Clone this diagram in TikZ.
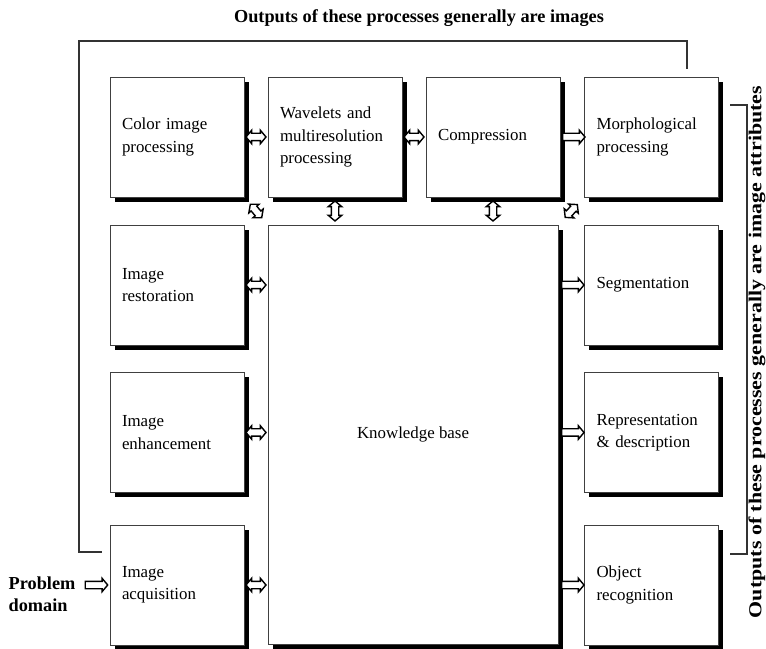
\documentclass[tikz,border=0pt]{standalone}
\usepackage{fontspec}
\setmainfont{Liberation Serif}
\usetikzlibrary{shapes.arrows,shadows}

\tikzset{
    procbox/.style={draw=black!75, fill=white, line width=0.6pt,
        minimum width=3.35cm, minimum height=3cm, text width=2.75cm,
        inner xsep=0.3cm, align=left, font=\fontsize{12}{16}\selectfont,
        drop shadow={shadow xshift=0.12cm, shadow yshift=-0.12cm, fill=black, opacity=1}},
    kbbox/.style={procbox, minimum width=7.25cm, minimum height=10.475cm, text width=},
    twoway/.style={double arrow, draw, fill=white, line width=1pt, sloped,
        minimum height=0.5cm, inner xsep=0pt, inner ysep=0.075cm,
        double arrow head extend=0.075cm, double arrow tip angle=100},
    oneway/.style={single arrow, draw, fill=white, line width=1pt,
        minimum height=0.56cm, inner xsep=0pt, inner ysep=0.075cm,
        single arrow head extend=0.075cm, single arrow tip angle=100},
    diag/.style={minimum height=0.44cm},
    feedback/.style={draw=black!80, line width=0.8pt},
    title/.style={font=\bfseries\fontsize{13}{15.5}\selectfont}
}

\begin{document}
\begin{tikzpicture}
    \useasboundingbox (0,0) rectangle (19.15,16.2);

    % processing steps
    \node[procbox] (color) at (4.425, 12.775) {Color image\\processing};
    \node[procbox] (wave) at (8.375, 12.775) {Wavelets and\\multiresolution\\processing};
    \node[procbox] (comp) at (12.325, 12.775) {Compression};
    \node[procbox] (morph) at (16.2875, 12.775) {Morphological\\processing};

    \node[procbox] (rest) at (4.425, 9.075) {Image\\restoration};
    \node[procbox] (enh) at (4.425, 5.3875) {Image\\enhancement};
    \node[procbox] (acq) at (4.425, 1.575) {Image\\acquisition};

    \node[procbox] (seg) at (16.2875, 9.075) {Segmentation};
    \node[procbox] (rep) at (16.2875, 5.3875) {Representation\\\& description};
    \node[procbox] (obj) at (16.2875, 1.575) {Object\\recognition};

    \node[kbbox, align=center] (kb) at (10.325, 5.3375) {Knowledge base};

    % arrows
    \path (color.east) -- node[twoway] {} (wave.west);
    \path (wave.east) -- node[twoway] {} (comp.west);
    \path (comp.east) -- node[oneway] {} (morph.west);
    \path (wave.south) -- node[twoway] {} (wave.south |- kb.north);
    \path (comp.south) -- node[twoway] {} (comp.south |- kb.north);
    \path (color.south east) -- node[twoway, diag] {} (kb.north west);
    \path (morph.south west) -- node[twoway, diag] {} (kb.north east);
    \foreach \step in {rest, enh, acq}
        \path (\step.east) -- node[twoway] {} (\step.east -| kb.west);
    \foreach \step in {seg, rep, obj}
        \path (kb.east |- \step) -- node[oneway] {} (\step.west);

    \node[title, align=left] (problem) at (1.05, 1.35) {Problem\\domain};
    \path (problem.east |- acq) -- node[oneway] {} (acq.west);

    % outputs
    \coordinate (fbtop) at (17.175, 15.175);
    \coordinate (fbleft) at (1.975, 15.175);
    \coordinate (fbin) at (1.975, 2.4);
    \draw[feedback, shorten <=0.2cm, shorten >=0.18cm]
        (fbtop |- morph.north) -- (fbtop) -- (fbleft) -- (fbin) -- (fbin -| acq.west);
    \node[title] (imgout) at (10.475, 15.75) {Outputs of these processes generally are images};

    \coordinate (brtop) at (18.675, 13.575);
    \coordinate (brbot) at (18.675, 2.35);
    \draw[feedback, shorten <=0.28cm, shorten >=0.28cm]
        (brtop -| morph.east) -- (brtop) -- (brbot) -- (brbot -| obj.east);
    \node[title, rotate=90, anchor=base, inner sep=0pt] (attrout) at (19.035, 7.4)
        {\scalebox{1.2}[1]{Outputs of these processes generally are image attributes}};
\end{tikzpicture}
\end{document}
